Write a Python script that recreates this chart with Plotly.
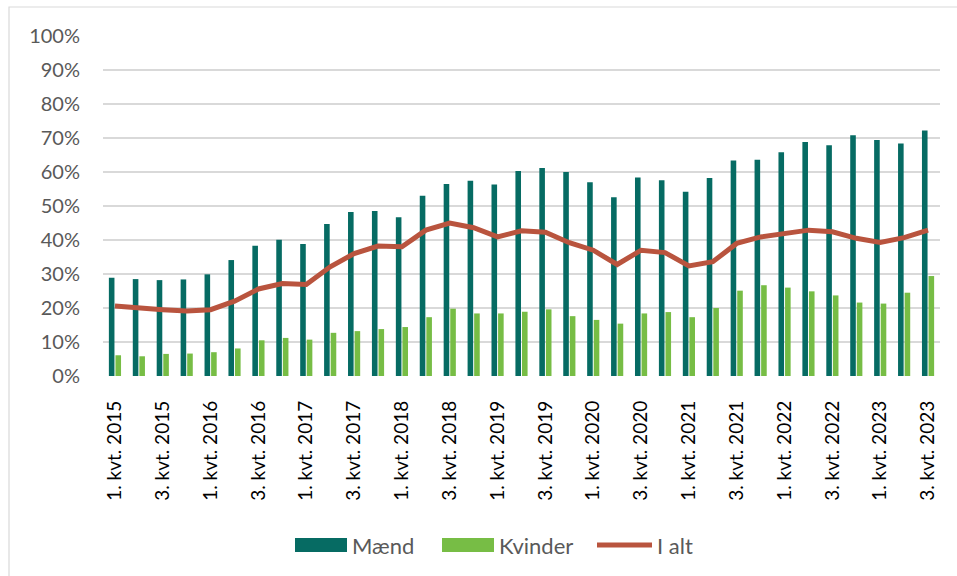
import plotly.graph_objects as go

years = list(range(2015, 2024))
categories = [f"{q}. kvt. {y}" for y in years for q in (1, 2, 3, 4)][:35]

maend = [28.9, 28.5, 28.2, 28.4, 29.9, 34.1, 38.3, 40.1, 38.8, 44.7, 48.2, 48.5,
         46.7, 53.0, 56.5, 57.4, 56.3, 60.3, 61.2, 60.0, 57.0, 52.6, 58.4, 57.6,
         54.2, 58.2, 63.4, 63.6, 65.8, 68.8, 67.9, 70.8, 69.4, 68.4, 72.2]
kvinder = [6.1, 5.8, 6.5, 6.6, 7.0, 8.1, 10.5, 11.2, 10.7, 12.7, 13.2, 13.8,
           14.4, 17.3, 19.8, 18.4, 18.4, 18.9, 19.6, 17.6, 16.5, 15.4, 18.4, 18.8,
           17.3, 20.0, 25.1, 26.7, 26.0, 24.9, 23.7, 21.6, 21.3, 24.5, 29.4]
i_alt = [20.6, 19.9, 19.5, 19.1, 19.5, 22.0, 25.6, 27.2, 26.9, 32.1, 36.0, 38.2,
         38.0, 42.9, 45.0, 43.6, 40.9, 42.7, 42.3, 39.2, 37.0, 32.8, 37.0, 36.3,
         32.4, 33.6, 39.0, 40.9, 41.9, 42.9, 42.4, 40.5, 39.3, 40.7, 42.9]

series_names = ["Mænd", "Kvinder", "I alt"]
y_tick_vals = [i / 10 for i in range(11)]
y_tick_text = [f"{i * 10}%" for i in range(11)]

C_M = "#066B63"
C_K = "#77BD45"
C_T = "#B9543E"
FONT = "Lato"

fig = go.Figure()
fig.add_trace(go.Bar(x=categories, y=[v / 100 for v in maend], name=series_names[0],
                     marker=dict(color=C_M, line=dict(width=0))))
fig.add_trace(go.Bar(x=categories, y=[v / 100 for v in kvinder], name=series_names[1],
                     marker=dict(color=C_K, line=dict(width=0))))
fig.add_trace(go.Scatter(x=categories, y=[v / 100 for v in i_alt], name=series_names[2],
                         mode="lines", line=dict(color=C_T, width=5)))

L, R, T, B = 103, 17, 36, 200
W, H = 957, 576
pw, ph = W - L - R, H - T - B

def px(xp):
    return (xp - L) / pw

def py(yp):
    return (H - B - yp) / ph

shapes = [dict(type="rect", xref="paper", yref="paper", x0=px(9), x1=px(990),
               y0=py(620), y1=py(7), line=dict(color="#D9D9D9", width=1.2),
               fillcolor="rgba(0,0,0,0)", layer="below")]
annotations = []
legend_items = [(295, 347, series_names[0], C_M, "bar"),
                (442, 494, series_names[1], C_K, "bar"),
                (597, 652, series_names[2], C_T, "line")]
ly = 545
for x0, x1, name, col, kind in legend_items:
    if kind == "bar":
        shapes.append(dict(type="rect", xref="paper", yref="paper", x0=px(x0), x1=px(x1),
                           y0=py(ly + 7), y1=py(ly - 7), fillcolor=col, line=dict(width=0)))
    else:
        shapes.append(dict(type="line", xref="paper", yref="paper", x0=px(x0), x1=px(x1),
                           y0=py(ly), y1=py(ly), line=dict(color=col, width=5)))
    annotations.append(dict(xref="paper", yref="paper", x=px(x1 + 3), y=py(ly),
                            xanchor="left", yanchor="middle", text=name, showarrow=False,
                            font=dict(family=FONT, size=22, color="#595959")))

fig.update_layout(
    width=W, height=H,
    margin=dict(l=L, r=R, t=T, b=B),
    paper_bgcolor="white", plot_bgcolor="white",
    barmode="group", bargap=0.45, bargroupgap=0.15,
    showlegend=False,
    shapes=shapes, annotations=annotations,
    font=dict(family=FONT),
)
fig.update_xaxes(
    type="category", range=[-0.5, 34.5],
    tickmode="array", tickvals=categories[::2], ticktext=categories[::2],
    tickangle=-90, tickfont=dict(family=FONT, size=19, color="#000000"),
    showgrid=False, showline=False, ticks="", zeroline=False,
    ticklabelstandoff=20,
)
fig.update_yaxes(
    range=[0, 1], tickmode="array", tickvals=y_tick_vals, ticktext=y_tick_text,
    tickfont=dict(family=FONT, size=20, color="#595959"),
    showgrid=True, gridcolor="#D9D9D9", gridwidth=1.5,
    zeroline=False, showline=False, ticks="", ticklabelstandoff=22,
)

fig.write_html("out.html", config={"displayModeBar": False},
               post_script="document.body.style.margin='0';document.body.style.overflow='hidden';")
